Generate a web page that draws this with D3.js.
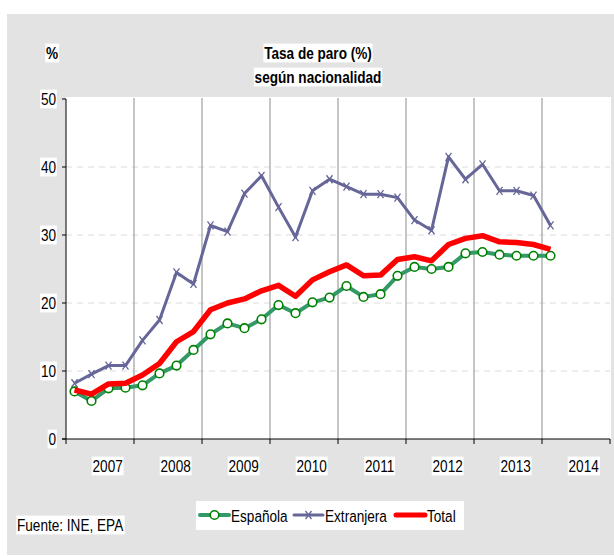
<!DOCTYPE html>
<html>
<head>
<meta charset="utf-8">
<script src="https://cdn.jsdelivr.net/npm/d3@7"></script>
<style>
  html, body { margin: 0; padding: 0; background: #fff; }
  svg text { font-family: "Liberation Sans", Arial, sans-serif; }
</style>
</head>
<body>
<svg id="chart" width="614" height="556"></svg>
<script>
// quarterly series, 2007T1 .. 2014T1
const espanola = [7.0, 5.6, 7.45, 7.55, 7.9, 9.65, 10.8, 13.1, 15.4, 17.0, 16.3, 17.6, 19.7, 18.5, 20.1,
  20.8, 22.5, 20.9, 21.3, 24.0, 25.3, 25.0, 25.3, 27.3, 27.5, 27.1, 26.95, 26.95, 26.95];
const extranjera = [8.2, 9.55, 10.8, 10.8, 14.5, 17.5, 24.5, 22.8, 31.4, 30.5, 36.1, 38.7, 34.1, 29.7, 36.5,
  38.2, 37.1, 36.0, 36.0, 35.5, 32.2, 30.7, 41.5, 38.2, 40.4, 36.5, 36.5, 35.8, 31.4];
const total = [7.2, 6.6, 8.1, 8.2, 9.4, 11.1, 14.3, 15.8, 19.0, 20.0, 20.6, 21.8, 22.6, 21.0, 23.4,
  24.6, 25.6, 24.0, 24.1, 26.4, 26.8, 26.2, 28.6, 29.5, 29.9, 29.0, 28.9, 28.6, 27.9];
const years = [2007, 2008, 2009, 2010, 2011, 2012, 2013, 2014];
const yTicks = [0, 10, 20, 30, 40, 50];

const svg = d3.select("#chart");
const NARROW = 0.8; // fake "Arial Narrow"

// label with white box behind it, like the excel text boxes
function boxedText(parent, x, y, str, opts = {}) {
  const g = parent.append("g").attr("transform", `translate(${x},${y}) scale(${NARROW},1)`);
  const t = g.append("text")
    .attr("text-anchor", opts.anchor || "middle")
    .attr("dominant-baseline", "central")
    .style("font-size", (opts.size || 17) + "px")
    .style("font-weight", opts.bold ? "700" : "400")
    .style("fill", "#000")
    .text(str);
  if (opts.box !== false) {
    const bb = t.node().getBBox();
    g.insert("rect", "text")
      .attr("x", bb.x - 1).attr("y", bb.y)
      .attr("width", bb.width + 2).attr("height", bb.height)
      .attr("fill", "#fff");
  }
  return g;
}

// outer grey panel
svg.append("rect").attr("x", 7).attr("y", 14).attr("width", 607).attr("height", 541).attr("fill", "#e3e3e3");

const x = d3.scaleLinear().domain([0, 32]).range([66, 610]);
const y = d3.scaleLinear().domain([0, 50]).range([439, 99]);

// plot area
svg.append("rect").attr("x", 66).attr("y", 97).attr("width", 545).attr("height", 342).attr("fill", "#fff");

// horizontal dashed grid
svg.append("g").selectAll("line")
  .data(yTicks.filter(d => d > 0 && d < 50))
  .enter().append("line")
  .attr("x1", x(0)).attr("x2", x(32))
  .attr("y1", d => y(d)).attr("y2", d => y(d))
  .attr("stroke", "#dcdcdc").attr("stroke-width", 1.2).attr("stroke-dasharray", "6,5");

// vertical year lines
svg.append("g").selectAll("line")
  .data(d3.range(4, 32, 4))
  .enter().append("line")
  .attr("x1", d => x(d)).attr("x2", d => x(d))
  .attr("y1", y(50) - 1).attr("y2", y(0))
  .attr("stroke", "#a6a6a6").attr("stroke-width", 1.3);

// axes
const axisG = svg.append("g");
axisG.append("line").attr("x1", x(0)).attr("x2", x(0)).attr("y1", y(50)).attr("y2", y(0)).attr("stroke", "#000");
axisG.append("line").attr("x1", x(0) - 4).attr("x2", x(32)).attr("y1", y(0)).attr("y2", y(0)).attr("stroke", "#000");
axisG.selectAll(".yt").data(yTicks).enter().append("line")
  .attr("x1", x(0) - 4).attr("x2", x(0)).attr("y1", d => y(d)).attr("y2", d => y(d)).attr("stroke", "#000");
axisG.selectAll(".xt").data(d3.range(0, 33, 4)).enter().append("line")
  .attr("x1", d => x(d)).attr("x2", d => x(d)).attr("y1", y(0)).attr("y2", y(0) + 5).attr("stroke", "#000");

const labels = svg.append("g");
yTicks.forEach(d => boxedText(labels, 56, y(d), String(d), { anchor: "end" }));
years.forEach((yr, i) => boxedText(labels, x(i * 4 + 2.45), 466, String(yr)));

// titles
boxedText(labels, 318, 53, "Tasa de paro (%)", { bold: true });
boxedText(labels, 318, 77, "según nacionalidad", { bold: true });
boxedText(labels, 52, 53, "%", { bold: true });
boxedText(labels, 17, 525, "Fuente: INE, EPA", { anchor: "start" });

// series
const line = d3.line().x((d, i) => x(i + 0.5)).y(d => y(d));

svg.append("path").datum(extranjera).attr("d", line)
  .attr("fill", "none").attr("stroke", "#666699").attr("stroke-width", 3).attr("stroke-linejoin", "round");
svg.append("g").selectAll("path").data(extranjera).enter().append("path")
  .attr("transform", (d, i) => `translate(${x(i + 0.5)},${y(d)})`)
  .attr("d", "M-3,-4L3,4M3,-4L-3,4")
  .attr("stroke", "#666699").attr("stroke-width", 1.3);

svg.append("path").datum(espanola).attr("d", line)
  .attr("fill", "none").attr("stroke", "#339966").attr("stroke-width", 4).attr("stroke-linejoin", "round");
svg.append("g").selectAll("circle").data(espanola).enter().append("circle")
  .attr("cx", (d, i) => x(i + 0.5)).attr("cy", d => y(d)).attr("r", 4.3)
  .attr("fill", "#fff").attr("stroke", "#008000").attr("stroke-width", 1.6);

svg.append("path").datum(total).attr("d", line)
  .attr("fill", "none").attr("stroke", "#ff0000").attr("stroke-width", 5.5).attr("stroke-linejoin", "round");

// legend
const lg = svg.append("g");
lg.append("rect").attr("x", 196).attr("y", 501).attr("width", 268).attr("height", 29).attr("fill", "#fff");
const items = [
  { name: "Española", color: "#339966", w: 4, x0: 200, mark: "circle" },
  { name: "Extranjera", color: "#666699", w: 3, x0: 294, mark: "x" },
  { name: "Total", color: "#ff0000", w: 5, x0: 396, mark: null }
];
items.forEach(it => {
  lg.append("line").attr("x1", it.x0).attr("x2", it.x0 + 29).attr("y1", 515).attr("y2", 515)
    .attr("stroke", it.color).attr("stroke-width", it.w).attr("stroke-linecap", "round");
  if (it.mark === "circle") {
    lg.append("circle").attr("cx", it.x0 + 14.5).attr("cy", 515).attr("r", 4.3)
      .attr("fill", "#fff").attr("stroke", "#008000").attr("stroke-width", 1.6);
  } else if (it.mark === "x") {
    lg.append("path").attr("transform", `translate(${it.x0 + 14.5},515)`).attr("d", "M-3,-4L3,4M3,-4L-3,4")
      .attr("stroke", it.color).attr("stroke-width", 1.3);
  }
  boxedText(lg, it.x0 + 31, 516, it.name, { anchor: "start", box: false });
});
</script>
</body>
</html>
